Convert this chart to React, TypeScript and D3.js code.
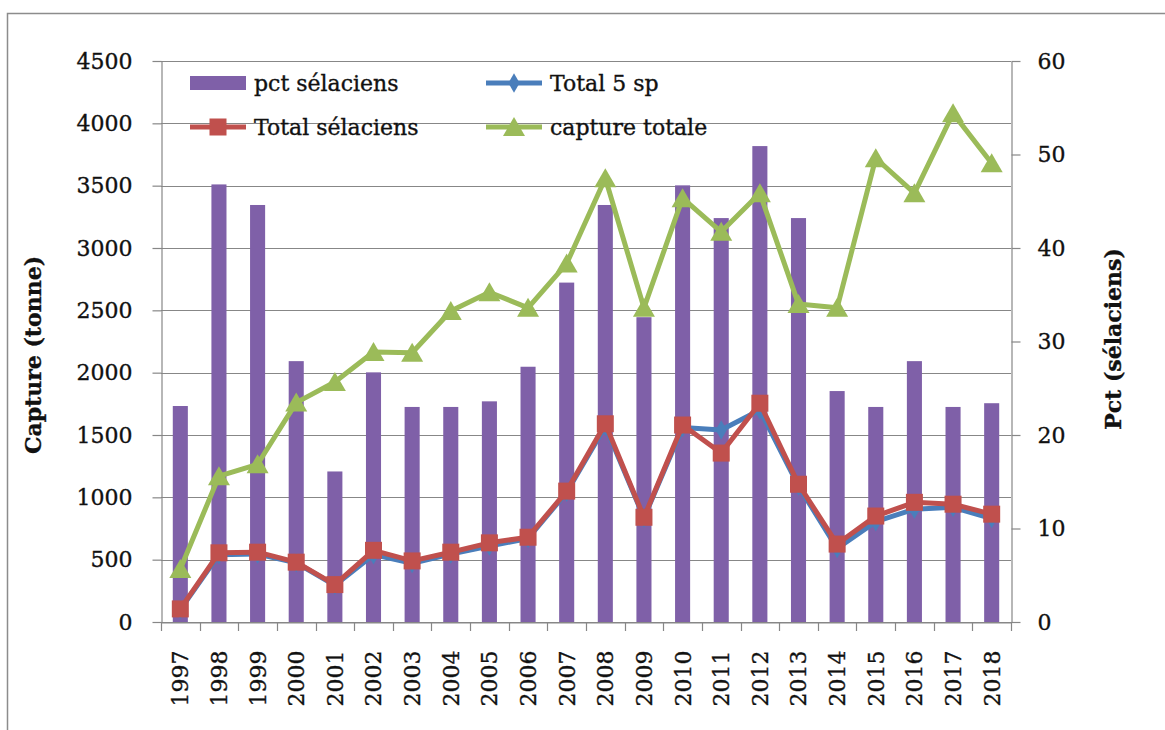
import React, { useEffect, useRef } from "react";
import * as d3 from "d3";

// Yearly catches (tonnes) and share of sharks & rays (%)
const years = [
  "1997", "1998", "1999", "2000", "2001", "2002", "2003", "2004", "2005", "2006", "2007",
  "2008", "2009", "2010", "2011", "2012", "2013", "2014", "2015", "2016", "2017", "2018",
];
const pctSelaciens = [
  23.1, 46.8, 44.6, 27.9, 16.1, 26.7, 23.0, 23.0, 23.6, 27.3, 36.3,
  44.6, 32.6, 46.7, 43.2, 50.9, 43.2, 24.7, 23.0, 27.9, 23.0, 23.4,
];
const total5sp = [
  100, 540, 545, 475, 295, 540, 470, 545, 610, 670, 1040,
  1570, 835, 1560, 1540, 1700, 1090, 590, 805, 905, 920, 830,
];
const totalSelaciens = [
  105, 555, 560, 480, 300, 575, 490, 560, 635, 680, 1050,
  1590, 840, 1580, 1355, 1755, 1105, 625, 850, 960, 945, 865,
];
const captureTotale = [
  425, 1170, 1265, 1760, 1925, 2165, 2160, 2495, 2645, 2520, 2875,
  3560, 2520, 3400, 3130, 3440, 2550, 2520, 3720, 3440, 4080, 3680,
];
const leftTicks = [0, 500, 1000, 1500, 2000, 2500, 3000, 3500, 4000, 4500];
const rightTicks = [0, 10, 20, 30, 40, 50, 60];

const W = 1165;
const H = 730;
const PLOT = { left: 161, right: 1011, top: 61, bottom: 622 };
const FONT = "'DejaVu Serif', 'Liberation Serif', serif";
const INK = "#111";
const GRID = "#878787";
const C_BAR = "#7f60a8";
const C_BLUE = "#4a7ebb";
const C_RED = "#c0504d";
const C_GREEN = "#9bbb59";

const trianglePath = "M0,-10L11,9L-11,9Z";

export default function App() {
  const ref = useRef<SVGSVGElement>(null);

  useEffect(() => {
    const svg = d3.select(ref.current);
    svg.selectAll("*").remove();

    const x = d3.scaleBand<string>().domain(years).range([PLOT.left, PLOT.right]);
    const yL = d3.scaleLinear().domain([0, 4500]).range([PLOT.bottom, PLOT.top]);
    const yR = d3.scaleLinear().domain([0, 60]).range([PLOT.bottom, PLOT.top]);
    const bw = x.bandwidth();
    const barW = bw * 0.39;
    const cx = (i: number) => (x(years[i]) as number) + bw / 2;

    // text styling shared by every label
    const ink = (sel: any, size = 22) =>
      sel
        .attr("font-family", FONT)
        .attr("font-size", size)
        .attr("fill", INK)
        .attr("stroke", INK)
        .attr("stroke-width", 0.35);

    // outer frame
    svg
      .append("rect")
      .attr("x", 7.5)
      .attr("y", 13.5)
      .attr("width", 1300)
      .attr("height", 900)
      .attr("fill", "none")
      .attr("stroke", "#8c8c8c")
      .attr("stroke-width", 1.5);

    // horizontal gridlines
    svg
      .append("g")
      .selectAll("line")
      .data(leftTicks)
      .join("line")
      .attr("x1", PLOT.left)
      .attr("x2", PLOT.right)
      .attr("y1", (d) => Math.round(yL(d)) + 0.5)
      .attr("y2", (d) => Math.round(yL(d)) + 0.5)
      .attr("stroke", GRID)
      .attr("stroke-width", 1.2);

    // bars: percentage on right axis
    svg
      .append("g")
      .selectAll("rect")
      .data(pctSelaciens)
      .join("rect")
      .attr("x", (_, i) => cx(i) - barW / 2)
      .attr("width", barW)
      .attr("y", (d) => yR(d))
      .attr("height", (d) => PLOT.bottom - yR(d))
      .attr("fill", C_BAR);

    // left axis
    const axL = svg
      .append("g")
      .attr("transform", `translate(${PLOT.left + 0.5},0)`)
      .call(
        d3
          .axisLeft(yL)
          .tickValues(leftTicks)
          .tickSize(9)
          .tickSizeOuter(0)
          .tickPadding(20)
          .tickFormat((d) => String(d))
      );
    axL.selectAll("path,line").attr("stroke", GRID).attr("stroke-width", 1.2);
    ink(axL.selectAll("text"));

    // right axis
    const axR = svg
      .append("g")
      .attr("transform", `translate(${PLOT.right + 0.5},0)`)
      .call(
        d3
          .axisRight(yR)
          .tickValues(rightTicks)
          .tickSize(9)
          .tickSizeOuter(0)
          .tickPadding(17)
          .tickFormat((d) => String(d))
      );
    axR.selectAll("path,line").attr("stroke", GRID).attr("stroke-width", 1.2);
    ink(axR.selectAll("text"));

    // bottom axis: labels at category centres, ticks at category boundaries
    const axB = svg
      .append("g")
      .attr("transform", `translate(0,${PLOT.bottom + 0.5})`)
      .call(d3.axisBottom(x).tickSize(0).tickSizeOuter(0));
    axB.select("path").attr("stroke", GRID).attr("stroke-width", 1.2);
    ink(axB.selectAll("text"))
      .attr("transform", "rotate(-90)")
      .attr("x", -28)
      .attr("y", 0)
      .attr("dy", "0.36em")
      .attr("text-anchor", "end");
    const bounds = years.map((y) => x(y) as number).concat([PLOT.right]);
    svg
      .append("g")
      .selectAll("line")
      .data(bounds)
      .join("line")
      .attr("x1", (d) => Math.round(d) + 0.5)
      .attr("x2", (d) => Math.round(d) + 0.5)
      .attr("y1", PLOT.bottom)
      .attr("y2", PLOT.bottom + 9)
      .attr("stroke", GRID)
      .attr("stroke-width", 1.2);

    const line = d3
      .line<number>()
      .x((_, i) => cx(i))
      .y((d) => yL(d));

    // Total 5 sp
    svg
      .append("path")
      .datum(total5sp)
      .attr("d", line)
      .attr("fill", "none")
      .attr("stroke", C_BLUE)
      .attr("stroke-width", 5)
      .attr("stroke-linejoin", "round");
    svg
      .append("g")
      .selectAll("path")
      .data(total5sp)
      .join("path")
      .attr("d", d3.symbol(d3.symbolDiamond, 110)() as string)
      .attr("transform", (d, i) => `translate(${cx(i)},${yL(d)})`)
      .attr("fill", C_BLUE);

    // Total sélaciens
    svg
      .append("path")
      .datum(totalSelaciens)
      .attr("d", line)
      .attr("fill", "none")
      .attr("stroke", C_RED)
      .attr("stroke-width", 5)
      .attr("stroke-linejoin", "round");
    svg
      .append("g")
      .selectAll("rect")
      .data(totalSelaciens)
      .join("rect")
      .attr("x", (_, i) => cx(i) - 8.5)
      .attr("y", (d) => yL(d) - 8.5)
      .attr("width", 17)
      .attr("height", 17)
      .attr("fill", C_RED);

    // capture totale
    svg
      .append("path")
      .datum(captureTotale)
      .attr("d", line)
      .attr("fill", "none")
      .attr("stroke", C_GREEN)
      .attr("stroke-width", 5)
      .attr("stroke-linejoin", "round");
    svg
      .append("g")
      .selectAll("path")
      .data(captureTotale)
      .join("path")
      .attr("d", trianglePath)
      .attr("transform", (d, i) => `translate(${cx(i)},${yL(d)})`)
      .attr("fill", C_GREEN);

    // axis titles
    ink(svg.append("text"))
      .attr("transform", "translate(33,355) rotate(-90)")
      .attr("text-anchor", "middle")
      .attr("dy", "0.35em")
      .attr("font-weight", "bold")
      .text("Capture (tonne)");
    ink(svg.append("text"))
      .attr("transform", "translate(1113,339) rotate(-90)")
      .attr("text-anchor", "middle")
      .attr("dy", "0.35em")
      .attr("font-weight", "bold")
      .text("Pct (sélaciens)");

    // legend
    const lg = svg.append("g");
    const rows = [83, 127];
    const cols = [190, 486];
    const swW = 56;
    // pct sélaciens
    lg.append("rect").attr("x", cols[0]).attr("y", rows[0] - 7).attr("width", swW).attr("height", 14).attr("fill", C_BAR);
    // Total 5 sp
    lg.append("line").attr("x1", cols[1]).attr("x2", cols[1] + swW).attr("y1", rows[0]).attr("y2", rows[0]).attr("stroke", C_BLUE).attr("stroke-width", 5);
    lg.append("path").attr("d", d3.symbol(d3.symbolDiamond, 110)() as string).attr("transform", `translate(${cols[1] + swW / 2},${rows[0]})`).attr("fill", C_BLUE);
    // Total sélaciens
    lg.append("line").attr("x1", cols[0]).attr("x2", cols[0] + swW).attr("y1", rows[1]).attr("y2", rows[1]).attr("stroke", C_RED).attr("stroke-width", 5);
    lg.append("rect").attr("x", cols[0] + swW / 2 - 8.5).attr("y", rows[1] - 8.5).attr("width", 17).attr("height", 17).attr("fill", C_RED);
    // capture totale
    lg.append("line").attr("x1", cols[1]).attr("x2", cols[1] + swW).attr("y1", rows[1]).attr("y2", rows[1]).attr("stroke", C_GREEN).attr("stroke-width", 5);
    lg.append("path").attr("d", trianglePath).attr("transform", `translate(${cols[1] + swW / 2},${rows[1]})`).attr("fill", C_GREEN);

    const labels = [
      { t: "pct sélaciens", c: 0, r: 0 },
      { t: "Total 5 sp", c: 1, r: 0 },
      { t: "Total sélaciens", c: 0, r: 1 },
      { t: "capture totale", c: 1, r: 1 },
    ];
    ink(
      lg.selectAll("text.legend-label")
        .data(labels)
        .join("text")
        .attr("class", "legend-label")
    )
      .attr("x", (d: any) => cols[d.c] + swW + 8)
      .attr("y", (d: any) => rows[d.r])
      .attr("dy", "0.36em")
      .text((d: any) => d.t);
  }, []);

  return (
    <svg
      ref={ref}
      width={W}
      height={H}
      style={{ position: "absolute", left: 0, top: 0, background: "#fff" }}
    />
  );
}
